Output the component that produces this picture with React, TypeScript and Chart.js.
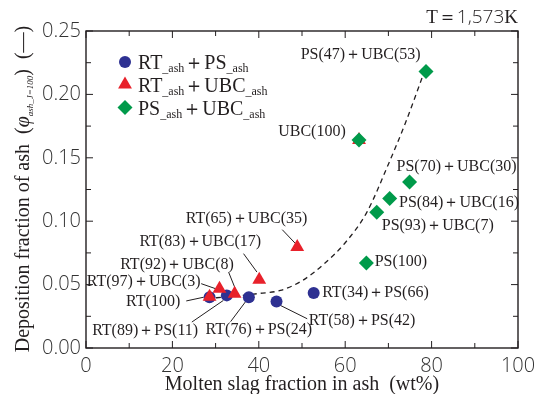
import React, { useEffect, useRef } from 'react';
import { Chart, registerables } from 'chart.js';

Chart.register(...registerables);

// ---------- data ----------
const psX = [28.6, 32.6, 37.7, 44.1, 52.7];
const psY = [0.040, 0.0415, 0.040, 0.0367, 0.0433];
const psLabels = ['RT(100)', 'RT(89)＋PS(11)', 'RT(76)＋PS(24)', 'RT(58)＋PS(42)', 'RT(34)＋PS(66)'];

const ubcX = [28.6, 30.9, 34.4, 40.1, 48.9, 63.2];
const ubcY = [0.0405, 0.0468, 0.0428, 0.0539, 0.0796, 0.164];
const ubcLabels = ['RT(100)', 'RT(97)＋UBC(3)', 'RT(92)＋UBC(8)', 'RT(83)＋UBC(17)', 'RT(65)＋UBC(35)', 'UBC(100)'];

const psUbcX = [78.7, 63.2, 74.9, 70.3, 67.3, 64.9];
const psUbcY = [0.218, 0.164, 0.131, 0.118, 0.107, 0.067];
const psUbcLabels = ['PS(47)＋UBC(53)', 'UBC(100)', 'PS(70)＋UBC(30)', 'PS(84)＋UBC(16)', 'PS(93)＋UBC(7)', 'PS(100)'];

const curveX = [28, 35, 40, 45, 50, 55, 60, 65, 70, 74, 78];
const curveY = [0.039, 0.041, 0.043, 0.0454, 0.053, 0.066, 0.083, 0.107, 0.145, 0.178, 0.215];

const xTicks = [0, 20, 40, 60, 80, 100];
const yTicks = [0, 0.05, 0.10, 0.15, 0.20, 0.25];

const legendItems = [
  { a: 'RT', b: 'PS', style: 'circle' },
  { a: 'RT', b: 'UBC', style: 'triangle' },
  { a: 'PS', b: 'UBC', style: 'diamond' },
];

// ---------- styles ----------
const BLUE = '#2e3192';
const RED = '#e8212b';
const GREEN = '#009a4a';
const TEXT = '#231f20';
const SERIF = '"Liberation Serif", "DejaVu Serif", serif';
const SANS = '"Open Sans", "Liberation Sans", sans-serif';

// label placement: dataset index (0 green, 1 red, 2 blue), point index, label list,
// text offset from the point, alignment, optional leader line offsets
type Place = { ds: number; i: number; labels: string[]; dx: number; dy: number; align: CanvasTextAlign; line?: number[] };
const placements: Place[] = [
  { ds: 2, i: 1, labels: psLabels, dx: -81.7, dy: 35, align: 'center', line: [-35, 26.7, -3.4, 5] },
  { ds: 2, i: 2, labels: psLabels, dx: 10, dy: 32.7, align: 'center', line: [-18.3, 24.4, -3.3, 4.4] },
  { ds: 2, i: 3, labels: psLabels, dx: 32.3, dy: 19, align: 'left', line: [4, 4, 30.7, 17.3] },
  { ds: 2, i: 4, labels: psLabels, dx: 8.5, dy: 0, align: 'left' },
  { ds: 1, i: 0, labels: ubcLabels, dx: -29.3, dy: 5, align: 'right', line: [-23.3, 4.3, -6, 0.6] },
  { ds: 1, i: 1, labels: ubcLabels, dx: -19, dy: -6.6, align: 'right', line: [-18.3, -5, -4, 0] },
  { ds: 1, i: 2, labels: ubcLabels, dx: -57.6, dy: -29.3, align: 'center', line: [-6, -21.6, 0.7, -5] },
  { ds: 1, i: 3, labels: ubcLabels, dx: -59, dy: -37.6, align: 'center', line: [-15.7, -26, -2.3, -7.6] },
  { ds: 1, i: 4, labels: ubcLabels, dx: -50.7, dy: -28.7, align: 'center', line: [-15, -17.4, -1.7, -3.4] },
  { ds: 1, i: 5, labels: ubcLabels, dx: -13.3, dy: -8.3, align: 'right' },
  { ds: 0, i: 0, labels: psUbcLabels, dx: -65.3, dy: -16.7, align: 'center' },
  { ds: 0, i: 2, labels: psUbcLabels, dx: -13, dy: -15, align: 'left' },
  { ds: 0, i: 3, labels: psUbcLabels, dx: 9.3, dy: 4, align: 'left' },
  { ds: 0, i: 4, labels: psUbcLabels, dx: 5, dy: 13.3, align: 'left' },
  { ds: 0, i: 5, labels: psUbcLabels, dx: 8.3, dy: -1.3, align: 'left' },
];

type Seg = { t: string; f: string; dy?: number };

function segWidth(ctx: CanvasRenderingContext2D, segs: Seg[]) {
  let w = 0;
  for (const s of segs) { ctx.font = s.f; w += ctx.measureText(s.t).width; }
  return w;
}
function drawSegs(ctx: CanvasRenderingContext2D, segs: Seg[], x: number, y: number) {
  let cx = x;
  ctx.textAlign = 'left';
  ctx.textBaseline = 'alphabetic';
  for (const s of segs) {
    ctx.font = s.f;
    ctx.fillText(s.t, cx, y + (s.dy || 0));
    cx += ctx.measureText(s.t).width;
  }
}

function marker(ctx: CanvasRenderingContext2D, style: string, x: number, y: number) {
  ctx.beginPath();
  if (style === 'circle') {
    ctx.fillStyle = BLUE;
    ctx.arc(x, y, 6, 0, Math.PI * 2);
  } else if (style === 'triangle') {
    const r = 8;
    ctx.fillStyle = RED;
    ctx.moveTo(x, y - r);
    ctx.lineTo(x + r * Math.sin(Math.PI * 2 / 3), y - r * Math.cos(Math.PI * 2 / 3));
    ctx.lineTo(x + r * Math.sin(Math.PI * 4 / 3), y - r * Math.cos(Math.PI * 4 / 3));
  } else {
    const r = 7.5;
    ctx.fillStyle = GREEN;
    ctx.moveTo(x - r, y);
    ctx.lineTo(x, y - r);
    ctx.lineTo(x + r, y);
    ctx.lineTo(x, y + r);
  }
  ctx.closePath();
  ctx.fill();
}

const decor = {
  id: 'decor',
  beforeDatasetsDraw(chart: any) {
    const ctx: CanvasRenderingContext2D = chart.ctx;
    ctx.save();
    ctx.strokeStyle = TEXT;
    ctx.lineWidth = 1;
    for (const p of placements) {
      if (!p.line) continue;
      const el = chart.getDatasetMeta(p.ds).data[p.i];
      ctx.beginPath();
      ctx.moveTo(el.x + p.line[0], el.y + p.line[1]);
      ctx.lineTo(el.x + p.line[2], el.y + p.line[3]);
      ctx.stroke();
    }
    ctx.restore();
  },
  afterDatasetsDraw(chart: any) {
    const ctx: CanvasRenderingContext2D = chart.ctx;
    const { left, right, top, bottom } = chart.chartArea;
    const xs = chart.scales.x;
    const ys = chart.scales.y;
    ctx.save();
    // frame
    ctx.strokeStyle = TEXT;
    ctx.lineWidth = 1.4;
    ctx.strokeRect(left, top, right - left, bottom - top);
    // ticks (inward)
    ctx.lineWidth = 1;
    ctx.beginPath();
    for (let v = 0; v <= 100; v += 10) {
      const px = xs.getPixelForValue(v);
      const len = v % 20 === 0 ? 7 : 5;
      ctx.moveTo(px, bottom); ctx.lineTo(px, bottom - len);
      ctx.moveTo(px, top); ctx.lineTo(px, top + len);
    }
    for (let k = 0; k <= 10; k++) {
      const v = k * 0.025;
      const py = ys.getPixelForValue(v);
      const len = k % 2 === 0 ? 7 : 5;
      ctx.moveTo(left, py); ctx.lineTo(left + len, py);
      ctx.moveTo(right, py); ctx.lineTo(right - len, py);
    }
    ctx.stroke();

    // point labels
    ctx.fillStyle = TEXT;
    ctx.font = '16px ' + SERIF;
    ctx.textBaseline = 'middle';
    for (const p of placements) {
      const el = chart.getDatasetMeta(p.ds).data[p.i];
      ctx.textAlign = p.align;
      ctx.fillText(p.labels[p.i], el.x + p.dx, el.y + p.dy);
    }

    // legend
    const main = '20px ' + SERIF;
    const sub = '12px ' + SERIF;
    const rows = [62, 84.5, 107.5];
    legendItems.forEach((it, k) => {
      marker(ctx, it.style, 125, rows[k]);
      ctx.fillStyle = TEXT;
      drawSegs(ctx, [
        { t: it.a, f: main }, { t: '_ash', f: sub, dy: 3 },
        { t: '＋', f: main }, { t: it.b, f: main }, { t: '_ash', f: sub, dy: 3 },
      ], 138, rows[k] + 7);
    });

    // title T=1,573K
    ctx.fillStyle = TEXT;
    const tSegs: Seg[] = [
      { t: 'T', f: '19px ' + SERIF },
      { t: '＝', f: '300 19px ' + SANS },
      { t: '1,573', f: '300 19px ' + SANS },
      { t: 'K', f: '19px ' + SERIF },
    ];
    drawSegs(ctx, tSegs, 518 - segWidth(ctx, tSegs), 23);

    // x title
    ctx.font = '20px ' + SERIF;
    ctx.textAlign = 'center';
    ctx.textBaseline = 'alphabetic';
    ctx.fillText('Molten slag fraction in ash  (wt%)', (left + right) / 2, 390);

    // y title
    const ySegs: Seg[] = [
      { t: 'Deposition fraction of ash  (', f: '20px ' + SERIF },
      { t: 'φ', f: 'italic 20px ' + SERIF },
      { t: 'ash_J=100', f: 'italic 9px ' + SERIF, dy: 4 },
      { t: ')  (—)', f: '20px ' + SERIF },
    ];
    const w = segWidth(ctx, ySegs);
    ctx.translate(29, 189);
    ctx.rotate(-Math.PI / 2);
    drawSegs(ctx, ySegs, -w / 2, 0);
    ctx.restore();
  },
};

export default function App() {
  const ref = useRef<HTMLCanvasElement>(null);
  useEffect(() => {
    document.body.style.margin = '0';
    const chart = new Chart(ref.current as HTMLCanvasElement, {
      type: 'scatter',
      data: {
        datasets: [
          {
            data: psUbcX.map((x, i) => ({ x, y: psUbcY[i] })),
            pointStyle: 'rectRot', pointRadius: 7.5, backgroundColor: GREEN, borderWidth: 0,
          },
          {
            data: ubcX.map((x, i) => ({ x, y: ubcY[i] })),
            pointStyle: 'triangle', pointRadius: 8, backgroundColor: RED, borderWidth: 0,
          },
          {
            data: psX.map((x, i) => ({ x, y: psY[i] })),
            pointStyle: 'circle', pointRadius: 6, backgroundColor: BLUE, borderWidth: 0,
          },
          {
            data: curveX.map((x, i) => ({ x, y: curveY[i] })),
            showLine: true, pointRadius: 0, borderColor: TEXT, borderWidth: 1.3,
            borderDash: [5, 4], cubicInterpolationMode: 'monotone', fill: false,
          } as any,
        ],
      },
      options: {
        responsive: false,
        animation: false,
        events: [],
        layout: { padding: { left: 0, right: 24, top: 31, bottom: 0 } },
        plugins: { legend: { display: false }, tooltip: { enabled: false }, title: { display: false } },
        scales: {
          x: {
            type: 'linear', min: 0, max: 100,
            afterFit: (s: any) => { s.height = 46; },
            afterBuildTicks: (s: any) => { s.ticks = xTicks.map((v) => ({ value: v })); },
            grid: { display: false, drawTicks: false },
            border: { display: false },
            ticks: { padding: 6, color: '#333', font: { family: SANS, size: 20, weight: '300' as any }, callback: (v: any) => String(v) },
          },
          y: {
            type: 'linear', min: 0, max: 0.25,
            afterFit: (s: any) => { s.width = 86; },
            afterBuildTicks: (s: any) => { s.ticks = yTicks.map((v) => ({ value: v })); },
            grid: { display: false, drawTicks: false },
            border: { display: false },
            ticks: { padding: 5, color: '#333', font: { family: SANS, size: 20, weight: '300' as any }, callback: (v: any) => Number(v).toFixed(2) },
          },
        },
      },
      plugins: [decor],
    });
    return () => chart.destroy();
  }, []);
  return (
    <div style={{ width: 542, height: 394 }}>
      <canvas ref={ref} width={542} height={394} style={{ display: 'block' }} />
    </div>
  );
}
